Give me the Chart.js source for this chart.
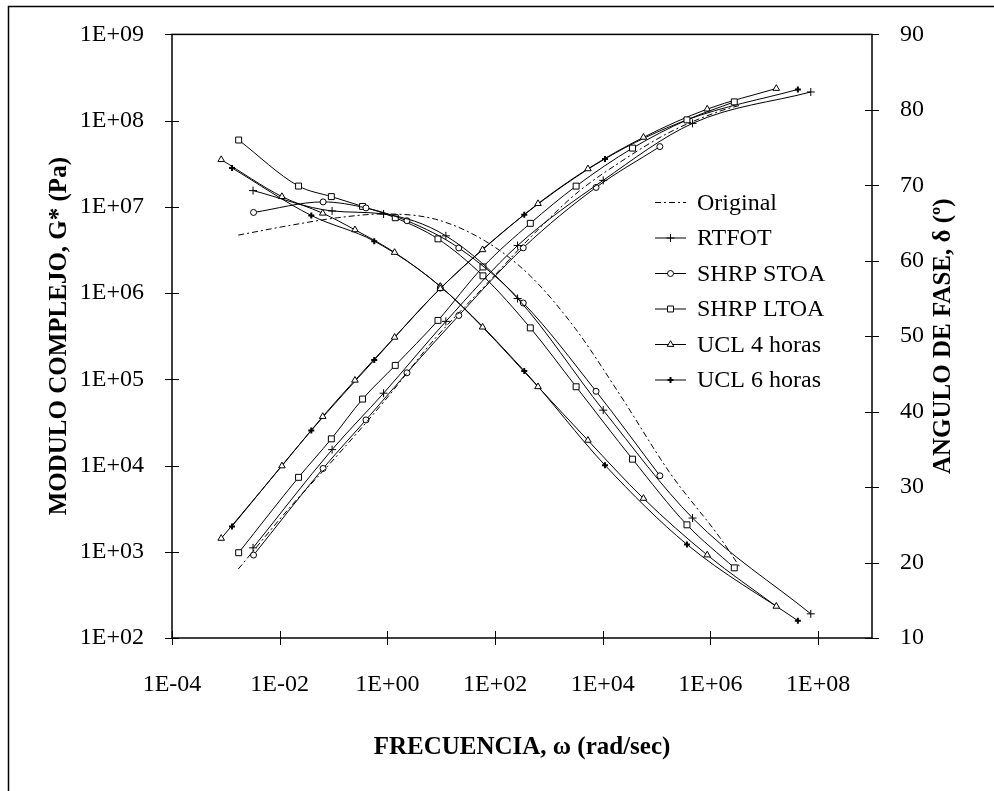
<!DOCTYPE html>
<html lang="es">
<head>
    <meta charset="UTF-8">
    <title>Modulo complejo y angulo de fase</title>
    <script src="https://cdn.jsdelivr.net/npm/chart.js"></script>
    <style>
        body {
            margin: 0;
            padding: 0;
            background-color: white;
            overflow: hidden;
        }
        .chart-box {
            width: 994px;
            height: 791px;
        }
    </style>
</head>
<body>
    <div class="chart-box">
        <canvas id="myChart" width="994" height="791"></canvas>
    </div>

    <script>
        // frecuencia (rad/s), G* (Pa) y angulo de fase (grados) por ligante
        const ORIGINAL_W = [1.7e-3, 1.6e-2, 0.12, 0.84, 7.8, 66, 450, 3.1e3, 2.1e4, 1.8e5, 1.5e6, 3.6e6];
        const ORIGINAL_G = [630, 3.35e3, 1.33e4, 5.4e4, 3.0e5, 1.23e6, 4.4e6, 1.4e7, 3.3e7, 7.4e7, 1.29e8, 1.51e8];
        const ORIGINAL_D = [63.4, 64.7, 65.7, 66.2, 65.5, 62.6, 58.0, 51.0, 42.2, 31.8, 23.3, 19.3];

        const RTFOT_W = [3.2e-3, 9.4e-2, 0.85, 12.2, 262, 1.02e4, 4.65e5, 7.3e7];
        const RTFOT_G = [1.11e3, 1.53e4, 6.9e4, 4.7e5, 3.56e6, 2.03e7, 9.3e7, 2.15e8];
        const RTFOT_D = [69.3, 66.6, 66.2, 63.3, 55.0, 40.2, 25.9, 13.2];

        const STOA_W = [3.27e-3, 6.4e-2, 0.40, 2.31, 21.2, 334, 7.5e3, 1.15e5];
        const STOA_G = [916, 9.25e3, 3.38e4, 1.19e5, 5.5e5, 3.35e6, 1.68e7, 5.0e7];
        const STOA_D = [66.4, 67.8, 67.0, 65.3, 61.7, 54.4, 42.7, 31.5];

        const LTOA_W = [1.73e-3, 2.24e-2, 9.1e-2, 0.346, 1.4, 8.7, 59.6, 451, 3.2e3, 3.57e4, 3.66e5, 2.77e6];
        const LTOA_G = [975, 7.3e3, 2.04e4, 5.9e4, 1.45e5, 4.82e5, 2.01e6, 6.44e6, 1.74e7, 4.8e7, 1.02e8, 1.65e8];
        const LTOA_D = [76.0, 69.9, 68.5, 67.2, 65.7, 62.9, 58.0, 51.1, 43.3, 33.7, 25.0, 19.3];

        const UCL4_W = [8.2e-4, 1.1e-2, 6.3e-2, 0.25, 1.36, 9.6, 58.6, 627, 5.3e3, 5.7e4, 8.7e5, 1.67e7];
        const UCL4_G = [1.43e3, 9.9e3, 3.7e4, 9.75e4, 3.07e5, 1.13e6, 3.18e6, 1.09e7, 2.76e7, 6.4e7, 1.36e8, 2.36e8];
        const UCL4_D = [73.4, 68.5, 66.3, 64.1, 61.1, 56.6, 51.2, 43.3, 36.2, 28.5, 21.0, 14.2];

        const UCL6_W = [1.3e-3, 3.86e-2, 0.57, 9.6, 348, 1.1e4, 3.66e5, 4.2e7];
        const UCL6_G = [1.97e3, 2.55e4, 1.67e5, 1.13e6, 8.1e6, 3.6e7, 1.02e8, 2.3e8];
        const UCL6_D = [72.3, 66.0, 62.6, 56.6, 45.4, 32.9, 22.4, 12.3];

        const SERIES_NAMES = ['Original', 'RTFOT', 'SHRP STOA', 'SHRP LTOA', 'UCL 4 horas', 'UCL 6 horas'];

        const X_TICKS = [1e-4, 1e-2, 1, 1e2, 1e4, 1e6, 1e8];
        const G_TICKS = [1e2, 1e3, 1e4, 1e5, 1e6, 1e7, 1e8, 1e9];
        const D_TICKS = [10, 20, 30, 40, 50, 60, 70, 80, 90];

        const X_TITLE = 'FRECUENCIA, \u03c9 (rad/sec)';
        const G_TITLE = 'MODULO COMPLEJO, G* (Pa)';
        const D_TITLE = 'ANGULO DE FASE, \u03b4 (\u00ba)';

        const SERIF = "'Liberation Serif', 'Times New Roman', serif";

        // marker look for each ligante
        const looks = [
            { marker: false, radius: 0, width: 1, dash: [6, 3, 2, 3] },
            { marker: 'cross', radius: 4, width: 1, dash: [] },
            { marker: 'circle', radius: 3, width: 1, dash: [] },
            { marker: 'rect', radius: 4.2, width: 1, dash: [] },
            { marker: 'triangle', radius: 3.8, width: 1, dash: [] },
            { marker: 'cross', radius: 3, width: 2, dash: [] }
        ];

        const raw = [
            [ORIGINAL_W, ORIGINAL_G, ORIGINAL_D],
            [RTFOT_W, RTFOT_G, RTFOT_D],
            [STOA_W, STOA_G, STOA_D],
            [LTOA_W, LTOA_G, LTOA_D],
            [UCL4_W, UCL4_G, UCL4_D],
            [UCL6_W, UCL6_G, UCL6_D]
        ];

        function pts(w, v) {
            return w.map((x, i) => ({ x: x, y: v[i] }));
        }

        function sci(v) {
            const e = Math.round(Math.log10(v));
            return '1E' + (e < 0 ? '-' : '+') + String(Math.abs(e)).padStart(2, '0');
        }

        function makeSet(i, values, axis) {
            const lk = looks[i];
            return {
                label: SERIES_NAMES[i],
                data: pts(raw[i][0], values),
                yAxisID: axis,
                borderColor: '#000',
                borderWidth: 1,
                borderDash: lk.dash,
                pointStyle: lk.marker,
                pointRadius: lk.radius,
                pointBorderWidth: lk.width,
                pointBorderColor: '#000',
                pointBackgroundColor: '#fff',
                cubicInterpolationMode: 'monotone',
                fill: false
            };
        }

        const datasets = [];
        raw.forEach((r, i) => {
            datasets.push(makeSet(i, r[1], 'y'));
            datasets.push(makeSet(i, r[2], 'y2'));
        });

        // frames, crossing tick marks, axis titles and the legend
        const decor = {
            id: 'decor',
            afterDraw(chart) {
                const { ctx, chartArea: a, scales } = chart;
                ctx.save();
                ctx.strokeStyle = '#000';
                ctx.fillStyle = '#000';

                ctx.lineWidth = 1.5;
                ctx.beginPath();
                ctx.moveTo(8.5, 800);
                ctx.lineTo(8.5, 6.5);
                ctx.lineTo(1000, 6.5);
                ctx.stroke();

                ctx.strokeRect(a.left, a.top, a.right - a.left, a.bottom - a.top);

                ctx.beginPath();
                X_TICKS.forEach(v => {
                    const px = Math.round(scales.x.getPixelForValue(v)) + 0.5;
                    ctx.moveTo(px, a.bottom - 7);
                    ctx.lineTo(px, a.bottom + 7);
                });
                G_TICKS.forEach(v => {
                    const py = Math.round(scales.y.getPixelForValue(v)) + 0.5;
                    ctx.moveTo(a.left - 7, py);
                    ctx.lineTo(a.left + 7, py);
                });
                D_TICKS.forEach(v => {
                    const py = Math.round(scales.y2.getPixelForValue(v)) + 0.5;
                    ctx.moveTo(a.right - 7, py);
                    ctx.lineTo(a.right + 7, py);
                });
                ctx.lineWidth = 1;
                ctx.stroke();

                // axis titles
                const midY = (a.top + a.bottom) / 2;
                ctx.font = 'bold 25px ' + SERIF;
                ctx.textAlign = 'center';
                ctx.textBaseline = 'middle';
                ctx.fillText(X_TITLE, (a.left + a.right) / 2, 748);
                ctx.save();
                ctx.translate(60, midY);
                ctx.rotate(-Math.PI / 2);
                ctx.fillText(G_TITLE, 0, 0);
                ctx.restore();
                ctx.save();
                ctx.translate(944, midY);
                ctx.rotate(-Math.PI / 2);
                ctx.fillText(D_TITLE, 0, 0);
                ctx.restore();

                // legend
                ctx.font = '24px ' + SERIF;
                ctx.textAlign = 'left';
                SERIES_NAMES.forEach((name, i) => {
                    const ds = chart.data.datasets[i * 2];
                    const y = 202.5 + i * 35.5;
                    ctx.save();
                    ctx.lineWidth = 1;
                    ctx.setLineDash(ds.borderDash);
                    ctx.beginPath();
                    ctx.moveTo(655, y);
                    ctx.lineTo(686, y);
                    ctx.stroke();
                    ctx.restore();
                    if (ds.pointStyle) {
                        ctx.save();
                        ctx.lineWidth = ds.pointBorderWidth;
                        ctx.fillStyle = '#fff';
                        Chart.helpers.drawPoint(ctx, {
                            pointStyle: ds.pointStyle,
                            radius: ds.pointRadius,
                            borderWidth: ds.pointBorderWidth,
                            rotation: 0
                        }, 670.5, y);
                        ctx.restore();
                    }
                    ctx.fillText(name, 697, y + 1);
                });
                ctx.restore();
            }
        };

        const tickFont = { family: SERIF, size: 24 };

        const ctx = document.getElementById('myChart').getContext('2d');
        let myChart = new Chart(ctx, {
            type: 'line',
            data: { datasets: datasets },
            options: {
                responsive: false,
                animation: false,
                devicePixelRatio: 1,
                layout: { padding: { top: 29, left: 0, right: 0, bottom: 0 } },
                plugins: {
                    legend: { display: false },
                    tooltip: { enabled: false }
                },
                scales: {
                    x: {
                        type: 'logarithmic',
                        min: 1e-4,
                        max: 1e9,
                        afterBuildTicks: s => { s.ticks = X_TICKS.map(v => ({ value: v })); },
                        afterFit: s => { s.height = 153; },
                        grid: { display: false },
                        border: { display: false },
                        ticks: { callback: v => sci(v), font: tickFont, color: '#000', padding: 24, autoSkip: false, maxRotation: 0 }
                    },
                    y: {
                        type: 'logarithmic',
                        position: 'left',
                        min: 1e2,
                        max: 1e9,
                        afterBuildTicks: s => { s.ticks = G_TICKS.map(v => ({ value: v })); },
                        afterFit: s => { s.width = 172; },
                        grid: { display: false },
                        border: { display: false },
                        ticks: { callback: v => sci(v), font: tickFont, color: '#000', padding: 20, autoSkip: false }
                    },
                    y2: {
                        type: 'linear',
                        position: 'right',
                        min: 10,
                        max: 90,
                        afterBuildTicks: s => { s.ticks = D_TICKS.map(v => ({ value: v })); },
                        afterFit: s => { s.width = 122; },
                        grid: { display: false },
                        border: { display: false },
                        ticks: { font: tickFont, color: '#000', padding: 20, autoSkip: false }
                    }
                }
            },
            plugins: [decor]
        });
    </script>
</body>
</html>
